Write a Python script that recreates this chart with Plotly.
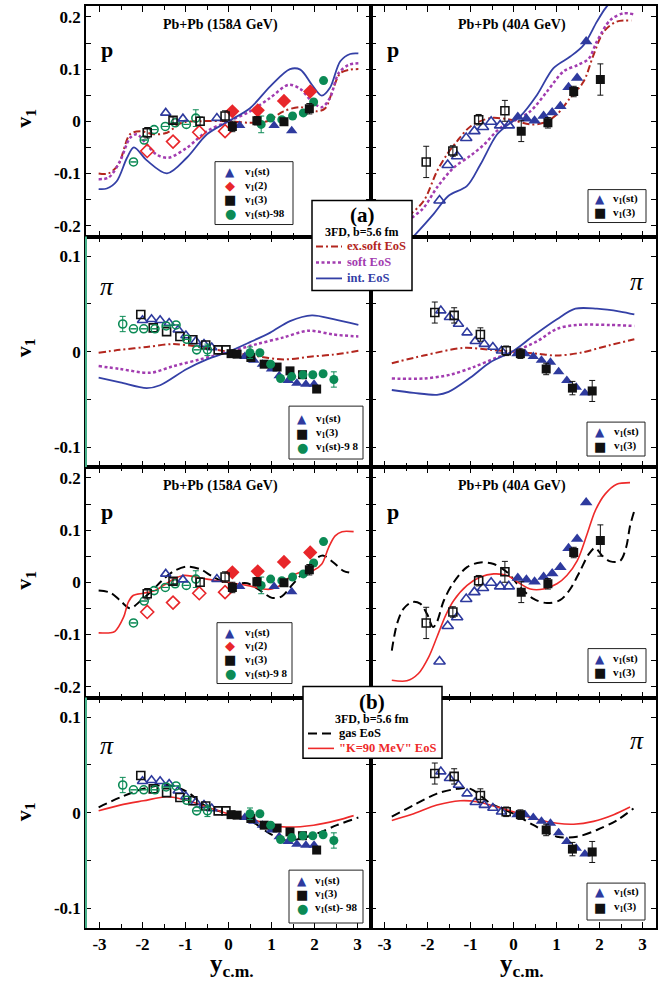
import plotly.graph_objects as go
from plotly.subplots import make_subplots

# ---------------- tick labels ----------------
x_ticks = [-3, -2, -1, 0, 1, 2, 3]
x_ticktext = ["-3", "-2", "-1", "0", "1", "2", "3"]
x_minor = [-2.5, -1.5, -0.5, 0.5, 1.5, 2.5]
yp_ticks = [-0.2, -0.1, 0, 0.1, 0.2]
yp_ticktext = ["-0.2", "-0.1", "0", "0.1", "0.2"]
yp_minor = [-0.15, -0.05, 0.05, 0.15]
ypi_ticks = [-0.1, 0, 0.1]
ypi_ticktext = ["-0.1", "0", "0.1"]
ypi_minor = [-0.05, 0.05]

# ---------------- experimental data ----------------
# protons, Pb+Pb 158A GeV
p158_st_x = [0.26, 1.06, 1.47]
p158_st_y = [-0.008, -0.008, -0.018]
p158_st_ox = [-0.27, -1.06, -1.46]
p158_st_oy = [0.006, 0.005, 0.016]
p158_v2_x = [0.09, 0.68, 1.29, 1.90]
p158_v2_y = [0.019, 0.021, 0.039, 0.057]
p158_v2_ox = [-0.08, -0.68, -1.29, -1.89]
p158_v2_oy = [-0.019, -0.021, -0.039, -0.057]
p158_v3_x = [0.09, 0.66, 1.29, 1.88]
p158_v3_y = [-0.010, 0.001, -0.001, 0.024]
p158_v3_e = [0.010, 0.008, 0.006, 0.010]
p158_v3_ox = [-0.08, -0.66, -1.29, -1.89]
p158_v3_oy = [0.010, 0.000, 0.002, -0.022]
p158_v3_oe = [0.010, 0.008, 0.006, 0.010]
p158_98_x = [0.76, 0.98, 1.24, 1.49, 1.74, 1.98, 2.21]
p158_98_y = [-0.006, 0.006, 0.003, 0.010, 0.016, 0.037, 0.078]
p158_98_e = [0.016, 0, 0, 0, 0, 0, 0]
p158_98_ox = [-0.76, -0.98, -1.24, -1.47, -1.73, -1.96, -2.21]
p158_98_oy = [0.006, -0.006, -0.003, -0.010, -0.016, -0.036, -0.078]
p158_98_oe = [0.016, 0, 0, 0, 0, 0, 0]

# protons, Pb+Pb 40A GeV
p40_st_x = [0.10, 0.30, 0.49, 0.70, 0.90, 1.09, 1.28, 1.48, 1.69]
p40_st_y = [0.008, 0.005, 0.001, 0.010, 0.017, 0.029, 0.065, 0.083, 0.153]
p40_st_ox = [-1.72, -1.53, -1.31, -1.10, -0.91, -0.71, -0.52, -0.31, -0.11]
p40_st_oy = [-0.152, -0.084, -0.067, -0.032, -0.019, -0.011, -0.001, -0.008, -0.008]
p40_v3_x = [0.18, 0.80, 1.40, 2.02]
p40_v3_y = [-0.019, -0.003, 0.057, 0.080]
p40_v3_e = [0.020, 0.010, 0.010, 0.030]
p40_v3_ox = [-2.03, -1.41, -0.81, -0.20]
p40_v3_oy = [-0.078, -0.057, 0.003, 0.020]
p40_v3_oe = [0.030, 0.010, 0.010, 0.020]

# pions, Pb+Pb 158A GeV
pi158_st_x = [0.38, 0.59, 0.79, 1.00, 1.18, 1.39, 1.59, 1.80, 1.99]
pi158_st_y = [-0.005, -0.009, -0.013, -0.018, -0.025, -0.030, -0.033, -0.034, -0.034]
pi158_st_ox = [-2.00, -1.79, -1.59, -1.38, -1.17, -0.99, -0.76, -0.57, -0.39]
pi158_st_oy = [0.033, 0.034, 0.033, 0.030, 0.023, 0.017, 0.011, 0.008, 0.0045]
pi158_v3_x = [0.06, 0.20, 0.52, 0.83, 1.13, 1.43, 1.72, 2.05]
pi158_v3_y = [-0.002, -0.0025, -0.006, -0.013, -0.016, -0.020, -0.024, -0.039]
pi158_v3_ox = [-2.04, -1.75, -1.44, -1.13, -0.83, -0.53, -0.24, -0.06]
pi158_v3_oy = [0.039, 0.025, 0.021, 0.016, 0.0125, 0.007, 0.002, 0.002]
pi158_98_x = [0.50, 0.73, 0.98, 1.21, 1.47, 1.73, 1.96, 2.20, 2.45]
pi158_98_y = [-0.001, -0.001, -0.013, -0.028, -0.026, -0.024, -0.024, -0.023, -0.029]
pi158_98_e = [0.006, 0, 0, 0, 0, 0, 0, 0, 0.008]
pi158_98_ox = [-2.46, -2.21, -1.97, -1.71, -1.45, -1.22, -0.97, -0.74, -0.49]
pi158_98_oy = [0.029, 0.024, 0.024, 0.024, 0.027, 0.028, 0.013, 0.002, 0.002]
pi158_98_oe = [0.008, 0, 0, 0, 0, 0, 0, 0, 0.006]

# pions, Pb+Pb 40A GeV
pi40_st_x = [0.08, 0.27, 0.46, 0.65, 0.86, 1.05, 1.24, 1.46, 1.66]
pi40_st_y = [-0.002, -0.002, -0.005, -0.009, -0.011, -0.021, -0.030, -0.037, -0.043]
pi40_st_ox = [-1.69, -1.49, -1.28, -1.08, -0.89, -0.68, -0.48, -0.28]
pi40_st_oy = [0.043, 0.036, 0.029, 0.020, 0.011, 0.008, 0.005, 0.001]
pi40_v3_x = [0.16, 0.76, 1.37, 1.83]
pi40_v3_y = [-0.002, -0.018, -0.038, -0.041]
pi40_v3_e = [0.005, 0.006, 0.007, 0.011]
pi40_v3_ox = [-1.83, -1.38, -0.77, -0.17]
pi40_v3_oy = [0.041, 0.038, 0.018, 0.001]
pi40_v3_oe = [0.011, 0.008, 0.007, 0.005]

# ---------------- 3FD curves ----------------
# (a) p 158
a_p158_exsoft_x = [-3.02, -2.79, -2.56, -2.29, -2.05, -1.74, -1.43, -1.09, -0.66, 0.0, 0.5, 0.9, 1.28, 1.67, 2.05, 2.25, 2.44, 2.6, 2.83, 3.02]
a_p158_exsoft_y = [-0.100, -0.100, -0.083, -0.025, -0.019, -0.025, -0.022, -0.003, 0.0, 0.0, -0.003, 0.0, 0.019, 0.027, 0.019, 0.025, 0.064, 0.092, 0.099, 0.100]
a_p158_soft_x = [-3.02, -2.79, -2.52, -2.29, -2.13, -1.9, -1.67, -1.4, -0.97, -0.5, 0.0, 0.5, 0.97, 1.4, 1.67, 1.94, 2.17, 2.36, 2.56, 2.79, 3.02]
a_p158_soft_y = [-0.111, -0.108, -0.076, -0.032, -0.025, -0.045, -0.064, -0.070, -0.051, -0.019, 0.0, 0.019, 0.045, 0.070, 0.062, 0.038, 0.027, 0.045, 0.092, 0.108, 0.111]
a_p158_int_x = [-3.02, -2.83, -2.6, -2.36, -2.2, -1.9, -1.43, -0.97, -0.5, 0.0, 0.5, 0.97, 1.43, 1.67, 1.94, 2.17, 2.36, 2.6, 2.83, 3.02]
a_p158_int_y = [-0.130, -0.129, -0.115, -0.070, -0.050, -0.075, -0.100, -0.070, -0.025, 0.0, 0.025, 0.067, 0.100, 0.099, 0.070, 0.049, 0.064, 0.115, 0.129, 0.130]
# (a) p 40
a_p40_exsoft_x = [-3.0, -2.7, -2.44, -2.09, -1.78, -1.55, -1.31, -1.0, -0.54, -0.07, 0.39, 0.7, 1.01, 1.32, 1.63, 1.86, 2.1, 2.4, 2.75]
a_p40_exsoft_y = [-0.215, -0.205, -0.182, -0.153, -0.096, -0.064, -0.038, -0.010, 0.006, 0.003, -0.006, -0.003, 0.013, 0.045, 0.076, 0.127, 0.172, 0.191, 0.193]
a_p40_soft_x = [-3.0, -2.7, -2.44, -2.09, -1.78, -1.39, -1.0, -0.69, -0.31, 0.0, 0.39, 0.78, 1.17, 1.5, 1.75, 1.94, 2.25, 2.56, 2.79]
a_p40_soft_y = [-0.235, -0.220, -0.191, -0.166, -0.127, -0.089, -0.066, -0.045, -0.013, 0.0, 0.019, 0.057, 0.096, 0.108, 0.120, 0.153, 0.194, 0.207, 0.205]
a_p40_int_x = [-2.6, -2.28, -1.86, -1.51, -1.08, -0.77, -0.38, -0.07, 0.16, 0.55, 0.93, 1.32, 1.63, 1.94, 2.14, 2.4, 2.8]
a_p40_int_y = [-0.245, -0.217, -0.178, -0.143, -0.124, -0.083, -0.025, -0.003, 0.010, 0.051, 0.102, 0.124, 0.146, 0.191, 0.217, 0.240, 0.255]
# (a) pi 158
a_pi158_exsoft_x = [-3.02, -2.52, -1.9, -1.28, -0.66, 0.0, 0.58, 1.28, 1.94, 2.44, 3.02]
a_pi158_exsoft_y = [-0.001, 0.002, 0.005, 0.008, 0.005, 0.0, -0.004, -0.008, -0.005, -0.003, 0.001]
a_pi158_soft_x = [-3.02, -2.52, -1.82, -1.28, -0.66, 0.0, 0.66, 1.28, 1.86, 2.44, 3.02]
a_pi158_soft_y = [-0.015, -0.018, -0.022, -0.015, -0.008, 0.0, 0.008, 0.015, 0.022, 0.018, 0.016]
a_pi158_int_x = [-3.02, -2.52, -1.9, -1.59, -0.97, -0.5, 0.0, 0.5, 0.97, 1.43, 1.94, 2.44, 3.02]
a_pi158_int_y = [-0.027, -0.032, -0.038, -0.035, -0.018, -0.008, 0.0, 0.010, 0.020, 0.032, 0.038, 0.034, 0.028]
# (a) pi 40
a_pi40_exsoft_x = [-2.83, -2.09, -1.16, -0.54, 0.0, 0.55, 1.01, 1.56, 2.25, 2.81]
a_pi40_exsoft_y = [-0.012, -0.004, 0.004, 0.002, 0.0, -0.002, -0.004, -0.001, 0.007, 0.013]
a_pi40_soft_x = [-2.83, -2.09, -1.47, -0.93, -0.38, 0.0, 0.55, 1.01, 1.48, 2.25, 2.81]
a_pi40_soft_y = [-0.028, -0.028, -0.024, -0.016, -0.006, 0.0, 0.011, 0.024, 0.028, 0.028, 0.027]
a_pi40_int_x = [-2.83, -2.32, -1.78, -1.51, -1.0, -0.54, 0.0, 0.47, 1.01, 1.44, 1.94, 2.48, 2.81]
a_pi40_int_y = [-0.040, -0.043, -0.045, -0.042, -0.027, -0.011, 0.001, 0.017, 0.034, 0.045, 0.045, 0.042, 0.039]
# (b) p 158
b_p158_gas_x = [-3.02, -2.75, -2.52, -2.29, -2.05, -1.78, -1.51, -1.28, -0.97, -0.66, -0.35, 0.04, 0.43, 0.74, 1.01, 1.24, 1.47, 1.74, 2.02, 2.21, 2.44, 2.67, 2.91]
b_p158_gas_y = [-0.016, -0.020, -0.035, -0.050, -0.036, -0.016, 0.006, 0.021, 0.030, 0.025, 0.010, -0.004, -0.002, -0.016, -0.030, -0.027, -0.006, 0.019, 0.045, 0.051, 0.038, 0.022, 0.017]
b_p158_k90_x = [-3.02, -2.75, -2.64, -2.44, -2.33, -2.21, -1.98, -1.74, -1.51, -1.28, -1.05, -0.81, -0.5, -0.19, 0.12, 0.43, 0.81, 1.01, 1.2, 1.43, 1.67, 1.98, 2.17, 2.33, 2.48, 2.64, 2.91]
b_p158_k90_y = [-0.097, -0.097, -0.094, -0.067, -0.038, -0.025, -0.021, -0.017, -0.006, 0.006, 0.013, 0.011, 0.006, 0.002, -0.002, -0.006, -0.013, -0.013, -0.006, 0.010, 0.019, 0.023, 0.035, 0.067, 0.089, 0.097, 0.097]
# (b) p 40
b_p40_gas_x = [-2.83, -2.71, -2.56, -2.36, -2.17, -2.01, -1.87, -1.78, -1.62, -1.39, -1.08, -0.77, -0.46, -0.15, 0.16, 0.47, 0.78, 1.09, 1.32, 1.55, 1.75, 1.9, 2.06, 2.25, 2.48, 2.62, 2.71, 2.81]
b_p40_gas_y = [-0.131, -0.080, -0.051, -0.038, -0.041, -0.061, -0.086, -0.076, -0.035, 0.0, 0.029, 0.038, 0.035, 0.019, -0.010, -0.032, -0.040, -0.034, -0.013, 0.022, 0.054, 0.066, 0.051, 0.040, 0.041, 0.067, 0.108, 0.137]
b_p40_k90_x = [-2.83, -2.48, -2.21, -1.97, -1.78, -1.58, -1.39, -1.08, -0.77, -0.46, -0.15, 0.16, 0.39, 0.7, 1.01, 1.24, 1.48, 1.71, 1.9, 2.13, 2.4, 2.71]
b_p40_k90_y = [-0.188, -0.189, -0.175, -0.143, -0.105, -0.064, -0.035, -0.006, 0.010, 0.016, 0.013, -0.003, -0.013, -0.013, -0.003, 0.013, 0.041, 0.092, 0.137, 0.169, 0.188, 0.191]
# (b) pi 158
b_pi158_gas_x = [-3.02, -2.52, -1.98, -1.43, -0.97, -0.5, 0.0, 0.5, 0.97, 1.36, 1.98, 2.52, 3.02]
b_pi158_gas_y = [0.0056, 0.016, 0.025, 0.029, 0.022, 0.006, -0.001, -0.008, -0.022, -0.029, -0.023, -0.013, -0.005]
b_pi158_k90_x = [-3.02, -2.52, -1.98, -1.43, -0.97, -0.5, 0.0, 0.5, 0.97, 1.36, 1.98, 2.52, 2.91]
b_pi158_k90_y = [0.002, 0.008, 0.0125, 0.0167, 0.013, 0.006, -0.001, -0.006, -0.013, -0.015, -0.013, -0.008, -0.003]
# (b) pi 40
b_pi40_gas_x = [-2.83, -2.32, -1.78, -1.31, -1.0, -0.54, 0.0, 0.47, 1.01, 1.48, 1.94, 2.4, 2.79]
b_pi40_gas_y = [-0.004, 0.008, 0.020, 0.025, 0.025, 0.010, -0.001, -0.013, -0.025, -0.025, -0.018, -0.008, 0.0045]
b_pi40_k90_x = [-2.83, -2.32, -1.78, -1.24, -0.85, -0.38, 0.0, 0.47, 1.01, 1.4, 1.86, 2.33, 2.71]
b_pi40_k90_y = [-0.008, -0.001, 0.008, 0.0125, 0.0115, 0.006, 0.001, -0.006, -0.011, -0.012, -0.009, -0.002, 0.006]

# ---------------- styles ----------------
SERIF = "Liberation Serif"
BLUE = "#2e3a9e"
RED = "#e8262a"
BLACK = "#111111"
GREEN = "#0b8a55"
C_EXSOFT = "#b3261e"
C_SOFT = "#a23cb0"
C_INT = "#3440a6"
C_K90 = "#ee2a2a"
TEAL = "#46b08a"

sty_exsoft = dict(color=C_EXSOFT, width=2, dash="7px,3px,2px,3px")
sty_soft = dict(color=C_SOFT, width=2.5, dash="3px,2.5px")
sty_int = dict(color=C_INT, width=1.8)
sty_gas = dict(color="black", width=2, dash="9px,5px")
sty_k90 = dict(color=C_K90, width=1.6)

fig = make_subplots(rows=4, cols=2, horizontal_spacing=0, vertical_spacing=0)


def curve(r, c, x, y, line):
    fig.add_trace(go.Scatter(x=x, y=y, mode="lines", line=dict(shape="spline", smoothing=0.9, **line),
                             showlegend=False, hoverinfo="skip"), row=r, col=c)


def pts(r, c, x, y, symbol, color, size, err=None, errcolor=None, opn=False):
    sym = symbol + ("-open" if opn else "")
    kw = {}
    if err is not None:
        kw["error_y"] = dict(type="data", array=err, color=errcolor or color, thickness=1, width=3)
    fig.add_trace(go.Scatter(x=x, y=y, mode="markers",
                             marker=dict(symbol=sym, color=color, size=size,
                                         line=dict(color=color, width=1.6 if opn else 0)),
                             showlegend=False, **kw), row=r, col=c)


def p158_data(r):
    pts(r, 1, p158_98_ox, p158_98_oy, "circle", GREEN, 8, p158_98_oe, GREEN, True)
    pts(r, 1, p158_98_x, p158_98_y, "circle", GREEN, 9, p158_98_e, GREEN)
    pts(r, 1, p158_v2_ox, p158_v2_oy, "diamond", RED, 10, opn=True)
    pts(r, 1, p158_v2_x, p158_v2_y, "diamond", RED, 11)
    pts(r, 1, p158_st_ox, p158_st_oy, "triangle-up", BLUE, 9, opn=True)
    pts(r, 1, p158_st_x, p158_st_y, "triangle-up", BLUE, 10)
    pts(r, 1, p158_v3_ox, p158_v3_oy, "square", BLACK, 8, p158_v3_oe, BLACK, True)
    pts(r, 1, p158_v3_x, p158_v3_y, "square", BLACK, 9, p158_v3_e, BLACK)


def p40_data(r):
    pts(r, 2, p40_st_ox, p40_st_oy, "triangle-up", BLUE, 10, opn=True)
    pts(r, 2, p40_st_x, p40_st_y, "triangle-up", BLUE, 11)
    pts(r, 2, p40_v3_ox, p40_v3_oy, "square", BLACK, 8, p40_v3_oe, BLACK, True)
    pts(r, 2, p40_v3_x, p40_v3_y, "square", BLACK, 9, p40_v3_e, BLACK)


def pi158_data(r):
    pts(r, 1, pi158_st_ox, pi158_st_oy, "triangle-up", BLUE, 9, opn=True)
    pts(r, 1, pi158_st_x, pi158_st_y, "triangle-up", BLUE, 10)
    pts(r, 1, pi158_v3_ox, pi158_v3_oy, "square", BLACK, 8, opn=True)
    pts(r, 1, pi158_v3_x, pi158_v3_y, "square", BLACK, 9)
    pts(r, 1, pi158_98_ox, pi158_98_oy, "circle", GREEN, 8, pi158_98_oe, GREEN, True)
    pts(r, 1, pi158_98_x, pi158_98_y, "circle", GREEN, 9, pi158_98_e, GREEN)


def pi40_data(r):
    pts(r, 2, pi40_st_ox, pi40_st_oy, "triangle-up", BLUE, 9, opn=True)
    pts(r, 2, pi40_st_x, pi40_st_y, "triangle-up", BLUE, 10)
    pts(r, 2, pi40_v3_ox, pi40_v3_oy, "square", BLACK, 8, pi40_v3_oe, BLACK, True)
    pts(r, 2, pi40_v3_x, pi40_v3_y, "square", BLACK, 9, pi40_v3_e, BLACK)


# row 1: protons (a)
curve(1, 1, a_p158_exsoft_x, a_p158_exsoft_y, sty_exsoft)
curve(1, 1, a_p158_soft_x, a_p158_soft_y, sty_soft)
curve(1, 1, a_p158_int_x, a_p158_int_y, sty_int)
p158_data(1)
curve(1, 2, a_p40_exsoft_x, a_p40_exsoft_y, sty_exsoft)
curve(1, 2, a_p40_soft_x, a_p40_soft_y, sty_soft)
curve(1, 2, a_p40_int_x, a_p40_int_y, sty_int)
p40_data(1)
# row 2: pions (a)
curve(2, 1, a_pi158_exsoft_x, a_pi158_exsoft_y, sty_exsoft)
curve(2, 1, a_pi158_soft_x, a_pi158_soft_y, sty_soft)
curve(2, 1, a_pi158_int_x, a_pi158_int_y, sty_int)
pi158_data(2)
curve(2, 2, a_pi40_exsoft_x, a_pi40_exsoft_y, sty_exsoft)
curve(2, 2, a_pi40_soft_x, a_pi40_soft_y, sty_soft)
curve(2, 2, a_pi40_int_x, a_pi40_int_y, sty_int)
pi40_data(2)
# row 3: protons (b)
curve(3, 1, b_p158_gas_x, b_p158_gas_y, sty_gas)
curve(3, 1, b_p158_k90_x, b_p158_k90_y, sty_k90)
p158_data(3)
curve(3, 2, b_p40_gas_x, b_p40_gas_y, sty_gas)
curve(3, 2, b_p40_k90_x, b_p40_k90_y, sty_k90)
p40_data(3)
# row 4: pions (b)
curve(4, 1, b_pi158_gas_x, b_pi158_gas_y, sty_gas)
curve(4, 1, b_pi158_k90_x, b_pi158_k90_y, sty_k90)
pi158_data(4)
curve(4, 2, b_pi40_gas_x, b_pi40_gas_y, sty_gas)
curve(4, 2, b_pi40_k90_x, b_pi40_k90_y, sty_k90)
pi40_data(4)

# ---------------- axes ----------------
tickfont = dict(family=SERIF, size=17, color="black", weight="bold")
for r in range(1, 5):
    for c in (1, 2):
        fig.update_xaxes(range=[-3.314, 3.314], tickmode="array", tickvals=x_ticks, ticktext=x_ticktext,
                         ticks="inside", ticklen=6, tickwidth=1.3, tickcolor="black",
                         minor=dict(tickmode="array", tickvals=x_minor, ticks="inside", ticklen=4,
                                    tickwidth=1.2, tickcolor="black"),
                         showline=True, linecolor="black", linewidth=1.5, mirror="ticks",
                         showgrid=False, zeroline=False, showticklabels=(r == 4),
                         tickfont=tickfont, row=r, col=c)
        isp = r in (1, 3)
        fig.update_yaxes(range=[-0.221, 0.221] if isp else [-0.1205, 0.1205], tickmode="array",
                         tickvals=yp_ticks if isp else ypi_ticks,
                         ticktext=yp_ticktext if isp else ypi_ticktext,
                         ticks="inside", ticklen=5, tickwidth=1.3, tickcolor="black",
                         minor=dict(tickmode="array", tickvals=yp_minor if isp else ypi_minor,
                                    ticks="inside", ticklen=5, tickwidth=1.2, tickcolor="black"),
                         showline=True, linecolor="black", linewidth=1.5, mirror="ticks",
                         showgrid=False, zeroline=False, showticklabels=(c == 1),
                         tickfont=tickfont, row=r, col=c)

L, R, T, B = 86, 656, 4, 928


def PX(px):
    return (px - L) / (R - L)


def PY(py):
    return (B - py) / (B - T)


annotations = []
shapes = []


def text(t, px, py, size, color="black", xanchor="center", weight="bold", family=SERIF, angle=0, style="normal"):
    annotations.append(dict(text=t, x=PX(px), y=PY(py), xref="paper", yref="paper", showarrow=False,
                            xanchor=xanchor, yanchor="middle", textangle=angle,
                            font=dict(family=family, size=size, color=color, weight=weight, style=style)))


def box(x0, y0, x1, y1, lw=1.0, color="#222222"):
    shapes.append(dict(type="rect", xref="paper", yref="paper", x0=PX(x0), x1=PX(x1), y0=PY(y1), y1=PY(y0),
                       fillcolor="white", line=dict(color=color, width=lw), layer="above"))


def hline(x0, x1, y, line):
    shapes.append(dict(type="line", xref="paper", yref="paper", x0=PX(x0), x1=PX(x1), y0=PY(y), y1=PY(y),
                       line=line, layer="above"))


# teal left border of pion panels
shapes.append(dict(type="line", xref="paper", yref="paper", x0=0, x1=0, y0=0.5, y1=0.75,
                   line=dict(color=TEAL, width=2), layer="above"))
shapes.append(dict(type="line", xref="paper", yref="paper", x0=0, x1=0, y0=0.0, y1=0.25,
                   line=dict(color=TEAL, width=2), layer="above"))

# y titles
for yy in (117, 347, 580, 812):
    text("v<sub>1</sub>", 25, yy, 22, angle=-90)
# x titles
text("y<sub>c.m.</sub>", 232, 966, 25)
text("y<sub>c.m.</sub>", 522, 966, 25)

# panel titles
for yy in (23, 485):
    text("Pb+Pb (158<i>A</i> GeV)", 220, yy, 14)
    text("Pb+Pb (40<i>A</i> GeV)", 512, yy, 14)
for yy in (48, 511):
    text("p", 107, yy, 22)
    text("p", 393, yy, 22)
text("π", 107, 285, 26, weight="normal", style="italic")
text("π", 637, 280, 26, weight="normal", style="italic")
text("π", 107, 745, 26, weight="normal", style="italic")
text("π", 637, 740, 26, weight="normal", style="italic")

# small legends
GLYPH = {"tri": ("▲", BLUE, 12), "dia": ("◆", RED, 13), "sq": ("■", BLACK, 13), "cir": ("●", GREEN, 13)}


def legend(x0, y0, x1, y1, mx, tx, rows, items):
    box(x0, y0, x1, y1, lw=1.0)
    for yy, (g, lab) in zip(rows, items):
        ch, col, sz = GLYPH[g]
        text(ch, mx, yy, sz, color=col, family="DejaVu Sans", weight="normal")
        text(lab, tx, yy, 11, xanchor="left")


V1 = "v<sub>1</sub>"
legend(215, 160, 293, 223, 230, 243, [170, 184, 198, 212],
       [("tri", V1 + "(st)"), ("dia", V1 + "(2)"), ("sq", V1 + "(3)"), ("cir", V1 + "(st)-98")])
legend(588, 188, 646, 221, 600, 611, [197, 211], [("tri", V1 + "(st)"), ("sq", V1 + "(3)")])
legend(289, 405, 363, 458, 302, 314, [418, 432, 446],
       [("tri", V1 + "(st)"), ("sq", V1 + "(3)"), ("cir", V1 + "(st)-9 8")])
legend(587, 421, 645, 455, 600, 612, [431, 445], [("tri", V1 + "(st)"), ("sq", V1 + "(3)")])
legend(217, 622, 292, 683, 230, 243, [632, 645, 659, 673],
       [("tri", V1 + "(st)"), ("dia", V1 + "(2)"), ("sq", V1 + "(3)"), ("cir", V1 + "(st)-9 8")])
legend(588, 648, 646, 682, 600, 611, [658, 672], [("tri", V1 + "(st)"), ("sq", V1 + "(3)")])
legend(289, 870, 363, 923, 302, 313, [881, 894, 908],
       [("tri", V1 + "(st)"), ("sq", V1 + "(3)"), ("cir", V1 + "(st)- 98")])
legend(587, 883, 645, 920, 600, 612, [892, 907], [("tri", V1 + "(st)"), ("sq", V1 + "(3)")])

# big legend (a)
box(312, 199, 412, 289, lw=1.5, color="black")
text("(a)", 362, 213, 21)
text("3FD, b=5.6 fm", 362, 230, 12)
for yy, sty, lab in ((245, sty_exsoft, "ex.soft EoS"), (261, sty_soft, "soft EoS"), (277, sty_int, "int. EoS")):
    hline(316, 342, yy, sty)
    text(lab, 345, yy, 12.5, color=sty["color"], xanchor="left")

# big legend (b)
box(303, 686, 442, 758, lw=1.5, color="black")
text("(b)", 372, 702, 21)
text("3FD, b=5.6 fm", 372, 719, 12)
for yy, sty, lab in ((733, sty_gas, "gas EoS"), (748, sty_k90, "\"K=90 MeV\" EoS")):
    hline(308, 334, yy, sty)
    text(lab, 337, yy, 12.5, color=sty["color"], xanchor="left")

fig.update_layout(width=668, height=988, margin=dict(l=L, r=668 - R, t=T, b=988 - B),
                  plot_bgcolor="white", paper_bgcolor="white", showlegend=False,
                  annotations=annotations, shapes=shapes)

fig.write_html("out.html")
